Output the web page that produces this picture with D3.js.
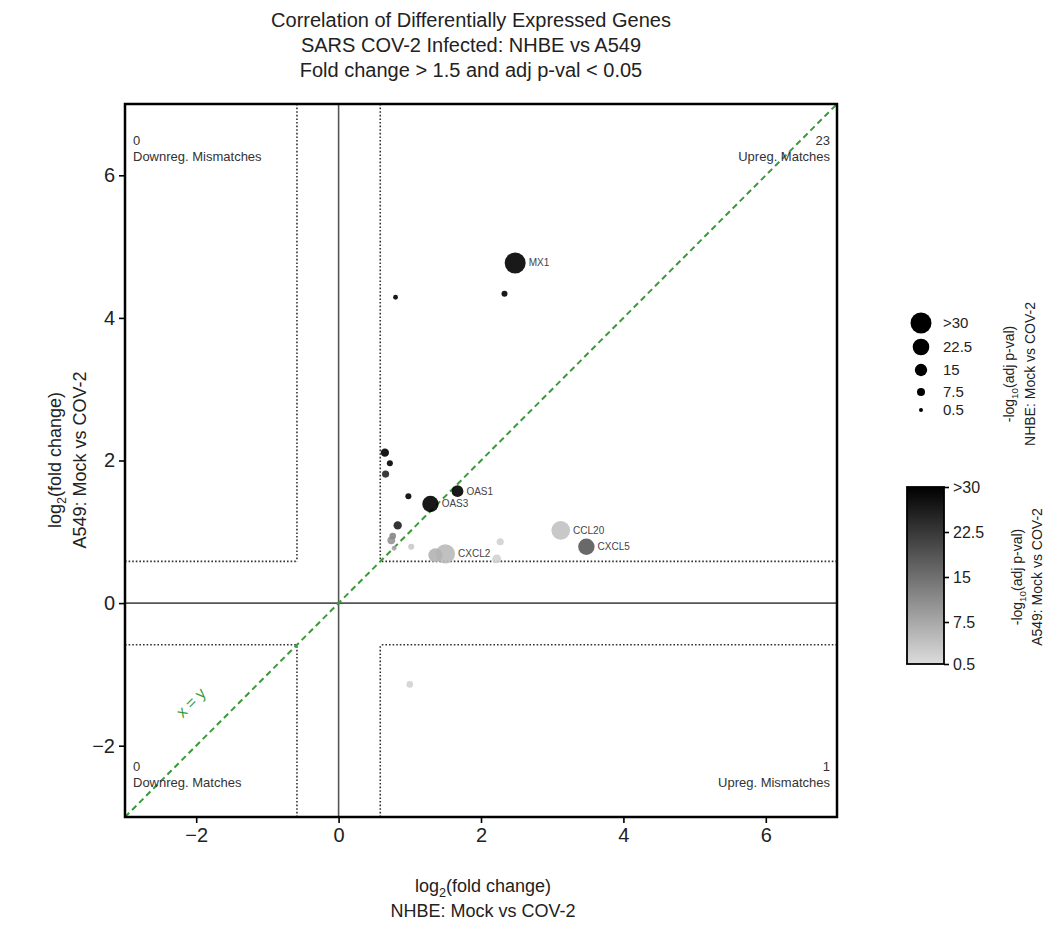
<!DOCTYPE html>
<html><head><meta charset="utf-8">
<script src="https://cdn.jsdelivr.net/npm/d3@7"></script>
<style>body{margin:0;background:#fff;} text{font-family:"Liberation Sans",Arial,sans-serif;}</style>
</head><body>
<svg id="c" width="1047" height="926"></svg>
<script>
// ---- data ----
const geneLabels = ["MX1","","","","","","","OAS1","OAS3","","","","","","","CXCL2","","","CCL20","CXCL5",""];
const nhbeLFC   = [2.48, 2.33, 0.80, 0.65, 0.72, 0.66, 0.98, 1.67, 1.29, 0.83, 0.76, 0.74, 0.78, 1.02, 1.36, 1.50, 2.27, 2.22, 3.12, 3.48, 1.00];
const a549LFC   = [4.77, 4.34, 4.29, 2.11, 1.96, 1.81, 1.50, 1.57, 1.39, 1.09, 0.94, 0.88, 0.77, 0.79, 0.67, 0.69, 0.86, 0.62, 1.02, 0.79, -1.14];
const nhbeP     = [30, 4, 2, 8, 4, 6, 4, 14, 22, 8, 5, 7, 2, 4, 18, 27, 6, 9, 26, 22, 5];
const a549P     = [30, 30, 30, 30, 30, 25, 30, 30, 30, 26, 12, 10, 8, 3, 6, 5, 2, 2, 4, 18, 2];
const axisTicks = [-2, 0, 2, 4, 6];
const legendVals = [30, 22.5, 15, 7.5, 0.5];
const legendLabels = [">30", "22.5", "15", "7.5", "0.5"];
const cornerCounts = ["0", "23", "0", "1"];
const cornerNames = ["Downreg. Mismatches", "Upreg. Matches", "Downreg. Matches", "Upreg. Mismatches"];
const titleLines = ["Correlation of Differentially Expressed Genes", "SARS COV-2 Infected: NHBE vs A549", "Fold change > 1.5 and adj p-val < 0.05"];
const thr = Math.log2(1.5);

// ---- layout ----
const svg = d3.select("#c");
const L = 125, R = 837, T = 104, B = 817;
const x = d3.scaleLinear().domain([-3, 7]).range([L, R]);
const y = d3.scaleLinear().domain([-3, 7]).range([B, T]);
const rScale = d3.scaleLinear().domain([0.5, 30]).range([2, 10.5]).clamp(true);
const cScale = d3.scaleLinear().domain([0.5, 30]).range(["#dcdcdc", "#000000"]).clamp(true);

// title
svg.selectAll("text.title").data(titleLines).join("text")
  .attr("x", 471).attr("y", (d, i) => 27 + i * 25)
  .attr("text-anchor", "middle").attr("font-size", 20).attr("fill", "#222").text(d => d);

const g = svg.append("g");
g.append("defs").append("clipPath").attr("id", "clip")
  .append("rect").attr("x", L).attr("y", T).attr("width", R - L).attr("height", B - T);
const pg = g.append("g").attr("clip-path", "url(#clip)");

// zero lines
pg.append("line").attr("x1", x(0)).attr("x2", x(0)).attr("y1", T).attr("y2", B).attr("stroke", "#555").attr("stroke-width", 1.6);
pg.append("line").attr("x1", L).attr("x2", R).attr("y1", y(0)).attr("y2", y(0)).attr("stroke", "#555").attr("stroke-width", 1.6);

// threshold dotted lines
const dotted = [
  [-thr, 7, -thr, thr], [thr, 7, thr, thr],
  [-thr, -3, -thr, -thr], [thr, -3, thr, -thr],
  [-3, thr, -thr, thr], [7, thr, thr, thr],
  [-3, -thr, -thr, -thr], [7, -thr, thr, -thr]
];
pg.selectAll("line.dot").data(dotted).join("line")
  .attr("x1", d => x(d[0])).attr("y1", d => y(d[1])).attr("x2", d => x(d[2])).attr("y2", d => y(d[3]))
  .attr("stroke", "#333").attr("stroke-width", 1.6).attr("stroke-dasharray", "1.6,2");

// x = y line
pg.append("line").attr("x1", x(-3)).attr("y1", y(-3)).attr("x2", x(7)).attr("y2", y(7))
  .attr("stroke", "#3a9a3a").attr("stroke-width", 2).attr("stroke-dasharray", "6,4");
svg.append("text").attr("transform", `translate(${x(-2.02)},${y(-1.45)}) rotate(-45)`)
  .attr("text-anchor", "middle").attr("font-size", 16).attr("fill", "#3a9a3a").text("x = y");

// points
const pts = geneLabels.map((lab, i) => ({lab, x: nhbeLFC[i], y: a549LFC[i], s: nhbeP[i], c: a549P[i]}));
pts.sort((a, b) => a.c - b.c);
pg.selectAll("circle.pt").data(pts).join("circle")
  .attr("cx", d => x(d.x)).attr("cy", d => y(d.y)).attr("r", d => rScale(d.s))
  .attr("fill", d => cScale(d.c)).attr("fill-opacity", 0.9);
pg.selectAll("text.pl").data(pts.filter(d => d.lab)).join("text")
  .attr("x", d => x(d.x) + rScale(d.s) + 3).attr("y", d => y(d.y) + 3.5)
  .attr("font-size", 10).attr("fill", "#444").text(d => d.lab);

// corner annotations
const corners = [
  {x: L + 8, y: T + 41, a: "start"}, {x: R - 7, y: T + 41, a: "end"},
  {x: L + 8, y: B - 46, a: "start"}, {x: R - 7, y: B - 46, a: "end"}
];
corners.forEach((c, i) => {
  svg.append("text").attr("x", c.x).attr("y", c.y).attr("text-anchor", c.a).attr("font-size", 13).attr("fill", "#333").text(cornerCounts[i]);
  svg.append("text").attr("x", c.x).attr("y", c.y + 16).attr("text-anchor", c.a).attr("font-size", 13).attr("fill", "#333").text(cornerNames[i]);
});

// axes
const fmt = d => d < 0 ? "\u2212" + Math.abs(d) : d;
const xAxis = svg.append("g").attr("transform", `translate(0,${B})`)
  .call(d3.axisBottom(x).tickValues(axisTicks).tickSize(6).tickPadding(5).tickFormat(fmt));
const yAxis = svg.append("g").attr("transform", `translate(${L},0)`)
  .call(d3.axisLeft(y).tickValues(axisTicks).tickSize(6).tickPadding(4).tickFormat(fmt));
[xAxis, yAxis].forEach(a => {
  a.select(".domain").remove();
  a.selectAll("line").attr("stroke", "#000").attr("stroke-width", 1.6);
  a.selectAll("text").attr("font-size", 20).attr("fill", "#222").attr("font-family", "Liberation Sans, Arial, sans-serif");
});
svg.append("rect").attr("x", L).attr("y", T).attr("width", R - L).attr("height", B - T)
  .attr("fill", "none").attr("stroke", "#000").attr("stroke-width", 2.5);

// axis labels
function log2Label(sel) {
  sel.append("tspan").text("log");
  sel.append("tspan").attr("font-size", "0.7em").attr("dy", 5).text("2");
  sel.append("tspan").attr("dy", -5).text("(fold change)");
}
svg.append("text").attr("x", 483).attr("y", 892).attr("text-anchor", "middle").attr("font-size", 18).attr("fill", "#222").call(log2Label);
svg.append("text").attr("x", 483).attr("y", 917).attr("text-anchor", "middle").attr("font-size", 18).attr("fill", "#222").text("NHBE: Mock vs COV-2");
svg.append("text").attr("transform", `translate(61,460) rotate(-90)`).attr("text-anchor", "middle").attr("font-size", 18).attr("fill", "#222").call(log2Label);
svg.append("text").attr("transform", `translate(86,460) rotate(-90)`).attr("text-anchor", "middle").attr("font-size", 18).attr("fill", "#222").text("A549: Mock vs COV-2");

// size legend
const legY = [323, 347, 370, 392, 410];
legendVals.forEach((v, i) => {
  svg.append("circle").attr("cx", 921).attr("cy", legY[i]).attr("r", rScale(v)).attr("fill", "#000");
  svg.append("text").attr("x", 943).attr("y", legY[i] + 5).attr("font-size", 15).attr("fill", "#222").text(legendLabels[i]);
});
function pvalLabel(sel) {
  sel.append("tspan").text("-log");
  sel.append("tspan").attr("font-size", "0.7em").attr("dy", 4).text("10");
  sel.append("tspan").attr("dy", -4).text("(adj p-val)");
}
svg.append("text").attr("transform", `translate(1014,374) rotate(-90)`).attr("text-anchor", "middle").attr("font-size", 14).attr("fill", "#222").call(pvalLabel);
svg.append("text").attr("transform", `translate(1035,374) rotate(-90)`).attr("text-anchor", "middle").attr("font-size", 14).attr("fill", "#222").text("NHBE: Mock vs COV-2");

// colorbar
const cbX = 907, cbW = 37, cbT = 487, cbB = 664;
const grad = svg.append("defs").append("linearGradient").attr("id", "cbg").attr("x1", 0).attr("y1", 1).attr("x2", 0).attr("y2", 0);
grad.append("stop").attr("offset", "0%").attr("stop-color", cScale(0.5));
grad.append("stop").attr("offset", "100%").attr("stop-color", cScale(30));
svg.append("rect").attr("x", cbX).attr("y", cbT).attr("width", cbW).attr("height", cbB - cbT)
  .attr("fill", "url(#cbg)").attr("stroke", "#000").attr("stroke-width", 1.8);
const cbScale = d3.scaleLinear().domain([0.5, 30]).range([cbB, cbT]);
const cbAxis = svg.append("g").attr("transform", `translate(${cbX + cbW},0)`)
  .call(d3.axisRight(cbScale).tickValues(legendVals).tickSize(5).tickPadding(4).tickFormat((d, i) => legendLabels[i]));
cbAxis.select(".domain").remove();
cbAxis.selectAll("line").attr("stroke", "#000").attr("stroke-width", 1.6);
cbAxis.selectAll("text").attr("font-size", 16).attr("fill", "#222").attr("font-family", "Liberation Sans, Arial, sans-serif");
svg.append("text").attr("transform", `translate(1022,577) rotate(-90)`).attr("text-anchor", "middle").attr("font-size", 14).attr("fill", "#222").call(pvalLabel);
svg.append("text").attr("transform", `translate(1042,577) rotate(-90)`).attr("text-anchor", "middle").attr("font-size", 14).attr("fill", "#222").text("A549: Mock vs COV-2");
</script>
</body></html>
